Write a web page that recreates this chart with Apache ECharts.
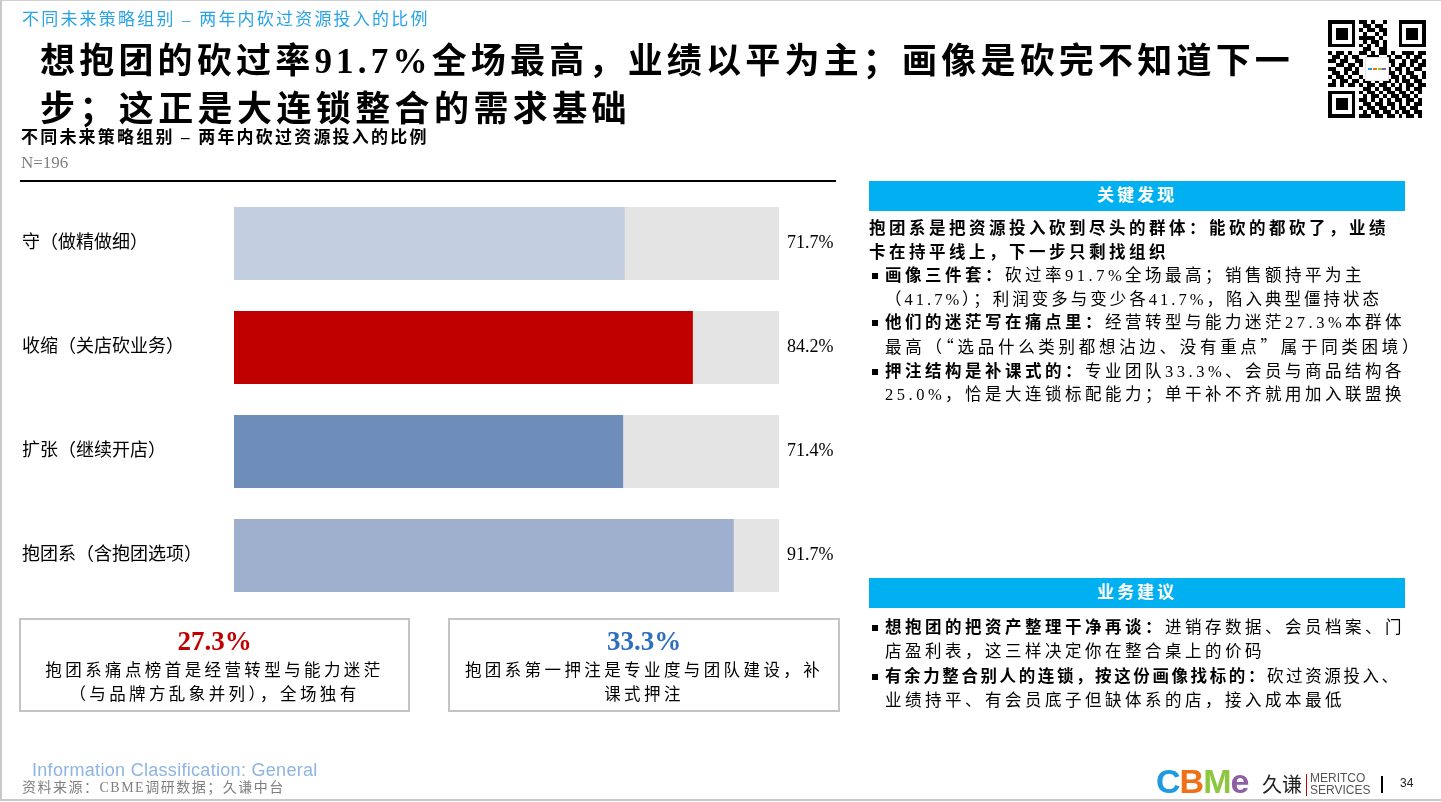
<!DOCTYPE html>
<html>
<head>
<meta charset="utf-8">
<script src="https://cdn.jsdelivr.net/npm/echarts@6/dist/echarts.min.js"></script>
<style>
  html,body{margin:0;padding:0;background:#fff;}
  body{width:1441px;height:802px;position:relative;overflow:hidden;font-family:"Liberation Serif","Noto Sans CJK SC",serif;color:#000;}
  .abs{position:absolute;white-space:nowrap;}
  .cjk{font-family:"Noto Sans CJK SC",sans-serif;}
  #chart{position:absolute;left:0;top:0;width:1441px;height:802px;}
  .frame{position:absolute;left:0;top:0;width:1439px;height:798px;border:1px solid #d0d0d0;border-bottom:2px solid #c8c8c8;border-left:2px solid #c8c8c8;}
  .hdr{position:absolute;left:869px;width:536px;height:30px;background:#00b0f0;color:#fff;font-weight:bold;font-size:17px;text-align:center;line-height:30px;letter-spacing:3px;}
  .panel{position:absolute;left:869px;font-size:16.5px;line-height:23.6px;letter-spacing:3.5px;white-space:nowrap;}
  .panel .ind{padding-left:16px;}
  .panel .bl{position:relative;padding-left:16px;}
  .panel .bl:before{content:"";position:absolute;left:3px;top:9px;width:6px;height:6px;background:#000;}
  .box{position:absolute;top:618px;height:90px;border:2px solid #c4c4c4;text-align:center;}
  .box .big{font-size:27px;font-weight:bold;line-height:30px;margin-top:6px;}
  .box .txt{font-size:16.5px;line-height:24px;letter-spacing:3.4px;margin-top:3px;}
</style>
</head>
<body>
<div class="frame"></div>
<div id="chart"></div>

<div class="abs" style="left:22px;top:5px;font-size:17px;color:#2aa3e6;letter-spacing:2.2px;">不同未来策略组别 – 两年内砍过资源投入的比例</div>
<div class="abs" style="left:40px;top:40px;font-size:35px;font-weight:bold;letter-spacing:4.2px;line-height:44px;">想抱团的砍过率91.7%全场最高，业绩以平为主；画像是砍完不知道下一</div>
<div class="abs" style="left:40px;top:88px;font-size:35px;font-weight:bold;letter-spacing:4.4px;line-height:44px;">步；这正是大连锁整合的需求基础</div>
<div class="abs" style="left:21px;top:127px;font-size:17px;font-weight:bold;letter-spacing:2.2px;line-height:22px;">不同未来策略组别 – 两年内砍过资源投入的比例</div>
<div class="abs" style="left:21px;top:152px;font-size:17px;color:#7f7f7f;line-height:22px;">N=196</div>
<div class="abs" style="left:20px;top:180px;width:816px;height:2px;background:#000;"></div>

<!-- QR code -->
<svg class="abs" style="left:1328px;top:20px;" width="98" height="98" viewBox="0 0 25 25" shape-rendering="crispEdges" id="qr"></svg>

<div class="hdr" style="top:181px;">关键发现</div>
<div class="panel" style="top:217px;">
  <div style="font-weight:bold;">抱团系是把资源投入砍到尽头的群体：能砍的都砍了，业绩</div>
  <div style="font-weight:bold;">卡在持平线上，下一步只剩找组织</div>
  <div class="bl"><b>画像三件套：</b>砍过率91.7%全场最高；销售额持平为主</div>
  <div class="ind" style="letter-spacing:3px;">（41.7%）；利润变多与变少各41.7%，陷入典型僵持状态</div>
  <div class="bl"><b>他们的迷茫写在痛点里：</b>经营转型与能力迷茫27.3%本群体</div>
  <div class="ind" style="letter-spacing:3.7px;">最高（<span class="cjk">“</span>选品什么类别都想沾边、没有重点<span class="cjk">”</span>属于同类困境）</div>
  <div class="bl"><b>押注结构是补课式的：</b>专业团队33.3%、会员与商品结构各</div>
  <div class="ind">25.0%，恰是大连锁标配能力；单干补不齐就用加入联盟换</div>
</div>

<div class="hdr" style="top:578px;">业务建议</div>
<div class="panel" style="top:616px;">
  <div class="bl"><b>想抱团的把资产整理干净再谈：</b>进销存数据、会员档案、门</div>
  <div class="ind">店盈利表，这三样决定你在整合桌上的价码</div>
  <div class="bl" style="margin-top:2px;letter-spacing:2.6px;"><b>有余力整合别人的连锁，按这份画像找标的：</b>砍过资源投入、</div>
  <div class="ind">业绩持平、有会员底子但缺体系的店，接入成本最低</div>
</div>

<div class="box" style="left:19px;width:387px;">
  <div class="big" style="color:#c00000;">27.3%</div>
  <div class="txt">抱团系痛点榜首是经营转型与能力迷茫<br>（与品牌方乱象并列），全场独有</div>
</div>
<div class="box" style="left:448px;width:388px;">
  <div class="big" style="color:#2e6fbf;">33.3%</div>
  <div class="txt">抱团系第一押注是专业度与团队建设，补<br>课式押注</div>
</div>

<div class="abs" style="left:32px;top:760px;font-family:'Liberation Sans',Arial,sans-serif;font-size:18px;letter-spacing:0.3px;color:#8db4e2;">Information Classification: General</div>
<div class="abs" style="left:22px;top:776px;font-size:14px;color:#7f7f7f;letter-spacing:1.5px;">资料来源：CBME调研数据；久谦中台</div>

<!-- logos -->
<div class="abs" style="left:1156px;top:762px;font-family:'Liberation Sans',Arial,sans-serif;font-weight:bold;font-size:34px;letter-spacing:-1px;line-height:38px;">
  <span style="color:#1e9be0;">C</span><span style="color:#f0701a;">B</span><span style="color:#8dc63f;">M</span><span style="color:#8e5ea2;">e</span>
</div>
<div class="abs" style="left:1262px;top:772px;font-family:'Noto Sans CJK SC',sans-serif;font-size:20px;line-height:24px;color:#222;">久谦</div>
<div class="abs" style="left:1306px;top:774px;width:1px;height:22px;background:#c00000;"></div>
<div class="abs" style="left:1310px;top:772px;font-family:'Liberation Sans',Arial,sans-serif;font-size:12px;line-height:12px;color:#555;">MERITCO<br>SERVICES</div>
<div class="abs" style="left:1381px;top:776px;width:1.5px;height:17px;background:#000;"></div>
<div class="abs" style="left:1400px;top:776px;font-family:'Liberation Sans',Arial,sans-serif;font-size:12px;color:#222;">34</div>

<script>
// ---- data ----
const categories = ['守（做精做细）', '收缩（关店砍业务）', '扩张（继续开店）', '抱团系（含抱团选项）'];
const values = [71.7, 84.2, 71.4, 91.7];
const valueLabels = ['71.7%', '84.2%', '71.4%', '91.7%'];

// ---- styles ----
const barColors = ['#c3cfe0', '#c00000', '#6e8db8', '#9eb0cd'];
const labelFont = '"Liberation Serif","Noto Sans CJK SC",serif';

const chart = echarts.init(document.getElementById('chart'), null, {renderer: 'canvas'});
chart.setOption({
  animation: false,
  grid: {left: 234, top: 191.5, width: 545, height: 416, containLabel: false},
  xAxis: {type: 'value', min: 0, max: 100, show: false},
  yAxis: [
    {
      type: 'category', data: categories, inverse: true,
      axisLine: {show: false}, axisTick: {show: false}, splitLine: {show: false},
      axisLabel: {align: 'left', margin: 212, fontSize: 18, color: '#000', fontFamily: labelFont}
    },
    {
      type: 'category', data: valueLabels, inverse: true, position: 'right',
      axisLine: {show: false}, axisTick: {show: false}, splitLine: {show: false},
      axisLabel: {margin: 8, fontSize: 18, color: '#000', fontFamily: labelFont}
    }
  ],
  series: [{
    type: 'bar',
    yAxisIndex: 0,
    barWidth: 73,
    showBackground: true,
    backgroundStyle: {color: '#e4e4e4'},
    data: values.map((v, i) => ({value: v, itemStyle: {color: barColors[i]}}))
  }]
});

// decorative QR-like pattern
(function(){
  const svg = document.getElementById('qr');
  let s = '<rect x="0" y="0" width="25" height="25" fill="#fff"/>';
  function finder(x, y){
    s += `<rect x="${x}" y="${y}" width="7" height="7" fill="#000"/><rect x="${x+1}" y="${y+1}" width="5" height="5" fill="#fff"/><rect x="${x+2}" y="${y+2}" width="3" height="3" fill="#000"/>`;
  }
  finder(0,0); finder(18,0); finder(0,18);
  const rows = [
    '........1101001..........',
    '........0110110..........',
    '........1011011..........',
    '........0100101..........',
    '........1111010..........',
    '........0101101..........',
    '........1010101..........',
    '........0110011..........',
    '1011010011010110100111011',
    '0110101100111001011010110',
    '1101100110011101100101101',
    '0011011010110000101101011',
    '1100110100000001011010110',
    '0110101100000001101011001',
    '1011010010000000110101101',
    '0101101101101011010110110',
    '1101011010110110101011011',
    '........0110101101101011.',
    '........1011010110110101.',
    '........0101101011011010.',
    '........1101010101101101.',
    '........0110110110101011.',
    '........1011011010110110.',
    '........0101101101011011.',
    '........1110110110101101.'
  ];
  rows.forEach((r, y) => { for (let x = 0; x < r.length; x++) if (r[x] === '1') s += `<rect x="${x}" y="${y}" width="1" height="1" fill="#000"/>`; });
  s += '<rect x="9.5" y="9.5" width="6" height="6" fill="#fff" stroke="#ddd" stroke-width="0.2"/>';
  s += '<rect x="10.3" y="12.2" width="1" height="0.6" fill="#1e9be0"/><rect x="11.5" y="12.2" width="1" height="0.6" fill="#f0701a"/><rect x="12.7" y="12.2" width="1" height="0.6" fill="#8dc63f"/><rect x="13.9" y="12.2" width="1" height="0.6" fill="#8e5ea2"/>';
  svg.innerHTML = s;
})();
</script>
</body>
</html>
